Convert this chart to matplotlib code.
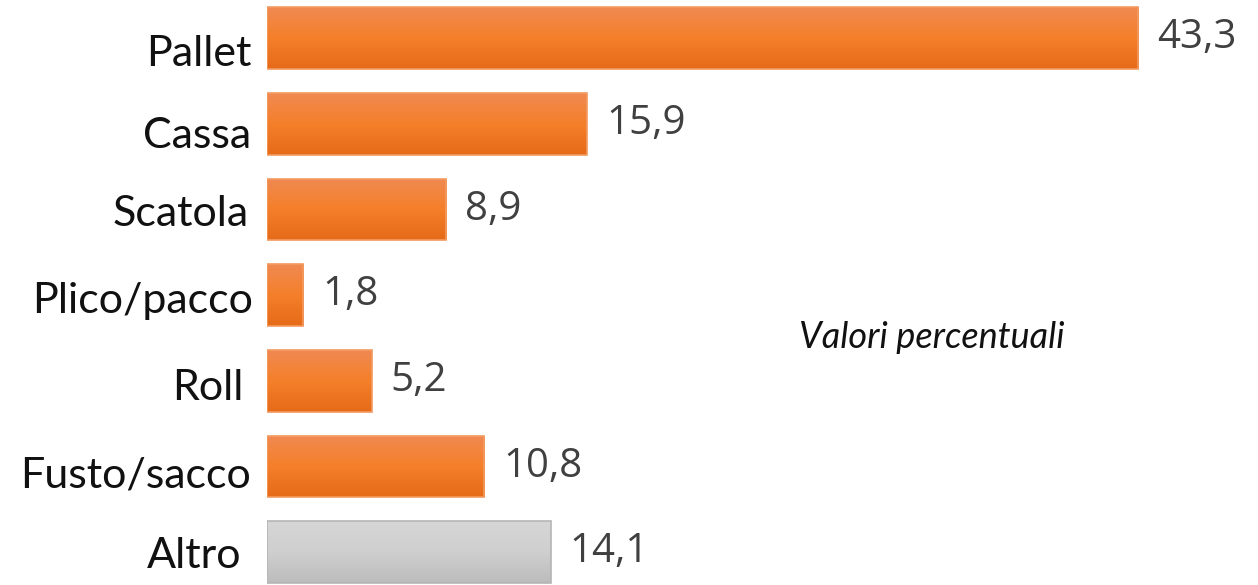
import numpy as np
import matplotlib.pyplot as plt
import matplotlib.transforms as mtransforms
from matplotlib.colors import LinearSegmentedColormap

categories = ['Pallet', 'Cassa', 'Scatola', 'Plico/pacco', 'Roll', 'Fusto/sacco', 'Altro']
values = [43.3, 15.9, 8.9, 1.8, 5.2, 10.8, 14.1]
value_labels = ['43,3', '15,9', '8,9', '1,8', '5,2', '10,8', '14,1']
note = 'Valori percentuali'

# small per-label nudges (pixels) to follow the original layout
label_dx = [0, 0, -2, 2, -7, 0, -10]
label_dy = [-12, -9, -1, -2, -4, -6, 0]

orange = LinearSegmentedColormap.from_list('orange', ['#f08a52', '#f57f2a', '#e56b18'])
grey = LinearSegmentedColormap.from_list('grey', ['#d6d6d6', '#cfcfcf', '#bcbcbc'])

fig = plt.figure(figsize=(12.58, 5.85), dpi=100)
ax = fig.add_axes([267 / 1258, 0, 986 / 1258, 1])

pos = np.arange(len(categories))
bars = ax.barh(pos, values, height=0.72, color='none',
               edgecolor='#f39a60', linewidth=1.2, zorder=3)

grad = np.linspace(0, 1, 100).reshape(-1, 1)
for i, b in enumerate(bars):
    cmap = grey if categories[i] == 'Altro' else orange
    if categories[i] == 'Altro':
        b.set_edgecolor('#b5b5b5')
    x0, y0 = b.get_x(), b.get_y()
    w, h = b.get_width(), b.get_height()
    im = ax.imshow(grad, cmap=cmap, aspect='auto', origin='upper',
                   extent=[x0, x0 + w, y0 + h, y0], zorder=2)
    im.set_clip_path(b)
    ax.text(w + 0.95, pos[i], value_labels[i], va='center', ha='left',
            fontsize=29, color='#404040', family='Open Sans')

# category labels
for i, cat in enumerate(categories):
    tr = ax.get_yaxis_transform() + mtransforms.ScaledTranslation(
        (label_dx[i] - 16) / 100, label_dy[i] / 100, fig.dpi_scale_trans)
    ax.text(0, pos[i], cat, transform=tr, ha='right', va='center_baseline',
            fontsize=31, family='Lato', color='#111111')

ax.set_xlim(0, 986 / 20.12)
ax.set_ylim(6.385, -0.4436)
ax.set_yticks([])
ax.set_xticks([])
for s in ax.spines.values():
    s.set_visible(False)

ax.text(33.05, 3.5, note, fontsize=26, style='italic', family='Lato',
        ha='center', va='center', color='#111111')

fig.savefig('out.png', dpi=100)
